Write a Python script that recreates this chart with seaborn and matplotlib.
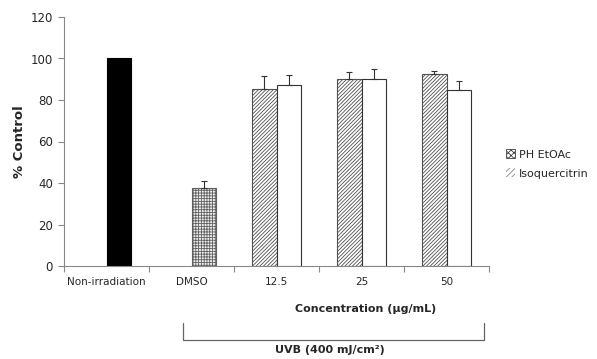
import numpy as np
import pandas as pd
import matplotlib
matplotlib.use("Agg")
import matplotlib.pyplot as plt
import matplotlib.transforms as mtransforms
from matplotlib.patches import Patch
from matplotlib.lines import Line2D
import seaborn as sns

# ---- data ----
categories = ["Non-irradiation", "DMSO", "12.5", "25", "50"]
control_categories = ["Non-irradiation", "DMSO"]
control_values = [100.0, 37.6]
control_errors = [0.0, 3.5]
conc_categories = ["12.5", "25", "50"]
ph_values = [85.4, 90.3, 92.7]
ph_errors = [6.2, 3.2, 1.1]
iso_values = [87.4, 90.3, 84.7]
iso_errors = [4.6, 4.5, 4.5]
series_names = ["PH EtOAc", "Isoquercitrin"]
y_ticks = [0, 20, 40, 60, 80, 100, 120]

rows = []
for c, v, e in zip(control_categories, control_values, control_errors):
    rows.append(dict(category=c, slot="B", value=v, err=e, kind=c))
for c, v, e in zip(conc_categories, ph_values, ph_errors):
    rows.append(dict(category=c, slot="A", value=v, err=e, kind="PH"))
for c, v, e in zip(conc_categories, iso_values, iso_errors):
    rows.append(dict(category=c, slot="B", value=v, err=e, kind="ISO"))
df = pd.DataFrame(rows)

sns.set_style("white")
plt.rcParams["font.family"] = ["DejaVu Sans"]
plt.rcParams["hatch.linewidth"] = 0.6

fig = plt.figure(figsize=(5.97, 3.59), dpi=100)
ax = fig.add_axes([64 / 597, 1 - 266 / 359, 425 / 597, 249 / 359])

sns.barplot(data=df, x="category", y="value", hue="slot", order=categories,
            hue_order=["A", "B"], width=0.577, errorbar=None, ax=ax,
            legend=False, saturation=1)

lookup = {(r.category, r.slot): r for r in df.itertuples()}
for p in list(ax.patches):
    if p.get_height() == 0 or np.isnan(p.get_height()):
        continue
    cx = p.get_x() + p.get_width() / 2
    ci = int(round(cx))
    slot = "A" if cx < ci else "B"
    r = lookup.get((categories[ci], slot))
    if r is None:
        continue
    p.set_linewidth(0.8)
    if r.kind == "Non-irradiation":
        p.set_facecolor("black")
        p.set_edgecolor("black")
    elif r.kind == "DMSO":
        p.set_facecolor("#f0f0f0")
        p.set_edgecolor("#606060")
        p.set_hatch("++++++")
    elif r.kind == "PH":
        p.set_facecolor("white")
        p.set_edgecolor("#505050")
        p.set_hatch("/////////")
    else:
        p.set_facecolor("white")
        p.set_edgecolor("#333333")
    if r.err > 0:
        ax.errorbar(cx, r.value, yerr=[[0], [r.err]], fmt="none",
                    ecolor="#333333", elinewidth=0.8, capsize=2.5,
                    capthick=0.8, zorder=3)

ax.set_ylim(0, 120)
ax.set_yticks(y_ticks)
ax.set_xlim(-0.5, len(categories) - 0.5)
ax.set_xticks(range(len(categories)))
ax.set_xticklabels(categories, fontsize=7.5)
ax.tick_params(axis="x", length=0, pad=8)
ax.tick_params(axis="y", labelsize=8.5, length=4, width=0.8, color="#888888",
               direction="out", left=True, pad=4)
# boundary ticks on the x axis
ax.set_xticks(np.arange(-0.5, len(categories), 1.0), minor=True)
ax.tick_params(axis="x", which="minor", length=4, width=0.8, color="#888888",
               direction="out", bottom=True)
for s in ["top", "right"]:
    ax.spines[s].set_visible(False)
for s in ["left", "bottom"]:
    ax.spines[s].set_color("#888888")
    ax.spines[s].set_linewidth(0.8)
ax.set_xlabel("")
ax.set_ylabel("% Control", fontsize=9.5, fontweight="bold", labelpad=3)

# labels / bracket below axis
trans = mtransforms.blended_transform_factory(ax.transData, fig.transFigure)
fig.text(3.05, 1 - 309 / 359, "Concentration (μg/mL)", transform=trans,
         ha="center", va="center", fontsize=8, fontweight="bold")
bx0, bx1 = 0.9, 4.44
by_top, by_bot = 1 - 323 / 359, 1 - 340 / 359
fig.add_artist(Line2D([bx0, bx0, bx1, bx1], [by_top, by_bot, by_bot, by_top],
                      transform=trans, color="#666666", lw=0.9))
fig.text(2.63, 1 - 350 / 359, "UVB (400 mJ/cm²)", transform=trans,
         ha="center", va="center", fontsize=8, fontweight="bold")

# legend
handles = [Patch(facecolor="white", edgecolor="#444444", hatch="xxxxxx",
                 lw=0.6, label=series_names[0]),
           Patch(facecolor="white", edgecolor="#888888", hatch="//////",
                 lw=0, label=series_names[1])]
fig.legend(handles=handles, loc="center left",
           bbox_to_anchor=(502 / 597, 1 - 164 / 359), frameon=False,
           fontsize=8, handlelength=0.8, handleheight=0.8,
           handletextpad=0.3, labelspacing=0.8, borderaxespad=0)

fig.savefig("out.png", dpi=100)
